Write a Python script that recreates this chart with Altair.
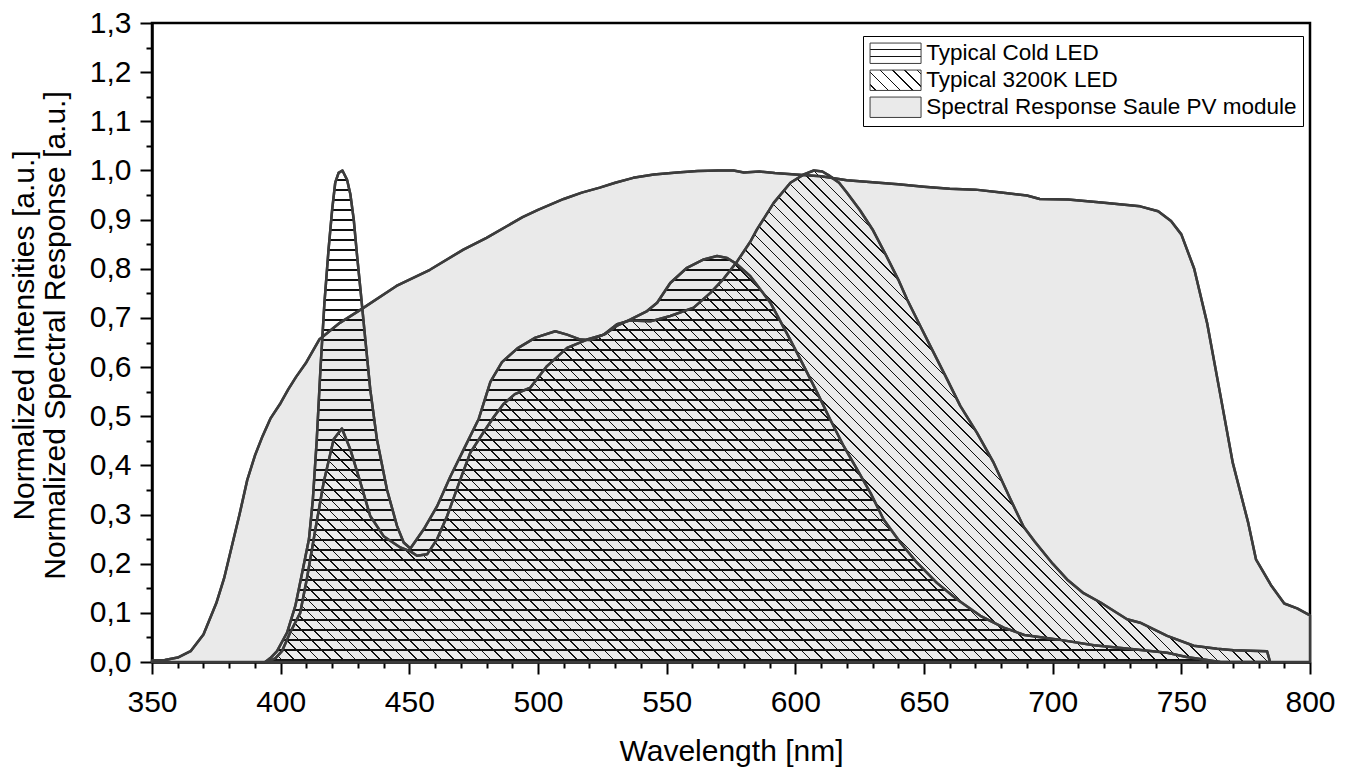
import math
import altair as alt
import pandas as pd

# ---------------- data ----------------
SERIES = ["Typical Cold LED", "Typical 3200K LED", "Spectral Response Saule PV module"]

PV_NM = [350, 355, 360, 365, 370, 375, 378, 381, 384, 387, 390, 393, 396, 400, 403, 406,
         410, 415, 423, 432, 445, 458, 471, 480, 494, 500, 510, 517, 524, 530, 537, 545,
         554, 562, 570, 576, 580, 586, 592, 600, 610, 620, 630, 640, 650, 660, 670, 680,
         690, 695, 706, 719, 734, 741, 746, 750, 755, 760, 765, 770, 776, 779, 785, 790,
         795, 800]
PV_VAL = [0.003, 0.004, 0.009, 0.022, 0.056, 0.12, 0.17, 0.235, 0.30, 0.37, 0.42, 0.46,
          0.495, 0.527, 0.555, 0.58, 0.61, 0.656, 0.69, 0.72, 0.765, 0.798, 0.839, 0.863,
          0.905, 0.92, 0.942, 0.955, 0.965, 0.975, 0.985, 0.992, 0.996, 0.999, 1.0, 1.0,
          0.996, 0.998, 0.995, 0.992, 0.988, 0.98, 0.976, 0.972, 0.967, 0.963, 0.961,
          0.955, 0.949, 0.942, 0.941, 0.935, 0.927, 0.917, 0.897, 0.87, 0.80, 0.69, 0.548,
          0.405, 0.283, 0.209, 0.155, 0.119, 0.109, 0.095]

COLD_NM = [394, 396, 398.6, 402.5, 405.7, 408.3, 411, 412.5, 414, 415.5, 417, 418.6, 420,
           421.2, 422.5, 424, 425.8, 427.1, 428.4, 429.7, 431, 432.9, 434.8, 437.4, 441.3,
           445.2, 447.8, 450.4, 455.6, 460.8, 466, 471.1, 477, 481.5, 486, 492, 499, 506.7,
           511.3, 516.5, 520.3, 526, 531, 536, 542.4, 546.3, 551.4, 557.9, 564.4, 569.6,
           573.5, 577.4, 582.5, 590.3, 598, 603.3, 608.5, 613.6, 618.8, 624, 629.2, 634.3,
           640.8, 647.3, 655, 662.9, 671.9, 681, 689, 701.7, 716, 731.5, 744.5, 752, 760,
           765]
COLD_VAL = [0.0, 0.008, 0.022, 0.06, 0.114, 0.18, 0.25, 0.33, 0.45, 0.6, 0.73, 0.839, 0.92,
            0.975, 0.995, 1.0, 0.981, 0.951, 0.90, 0.826, 0.758, 0.656, 0.555, 0.453, 0.351,
            0.277, 0.243, 0.231, 0.27, 0.317, 0.378, 0.432, 0.495, 0.57, 0.61, 0.638, 0.66,
            0.673, 0.666, 0.656, 0.655, 0.667, 0.685, 0.697, 0.714, 0.731, 0.771, 0.802,
            0.819, 0.826, 0.822, 0.809, 0.785, 0.731, 0.656, 0.602, 0.548, 0.493, 0.439,
            0.392, 0.344, 0.29, 0.243, 0.202, 0.161, 0.127, 0.094, 0.07, 0.055, 0.046,
            0.034, 0.026, 0.019, 0.01, 0.004, 0.0]

K3200_NM = [395, 398, 400.5, 403.7, 407.6, 410.2, 413.5, 416.7, 420.6, 423.8, 427.1, 431,
            434.8, 440, 446.5, 450.4, 453, 456.9, 460.8, 464.7, 469.8, 473.7, 478.9, 483,
            486.6, 491, 497, 503.5, 511.3, 519.1, 525.5, 530.7, 535.9, 543.7, 551.4, 560.5,
            567, 572.2, 577.4, 582.5, 585.1, 591.6, 598.1, 603.3, 607.2, 610.5, 613, 617,
            620, 625, 630, 635, 640, 643.4, 648.6, 653.8, 659, 664.1, 670.6, 677.1, 683.6,
            688.7, 693, 700, 705.6, 712, 718.6, 728.9, 734, 744.5, 754.8, 763.9, 770.3,
            783.3, 784.5]
K3200_VAL = [0.0, 0.008, 0.022, 0.06, 0.10, 0.17, 0.27, 0.365, 0.453, 0.475, 0.432, 0.365,
             0.297, 0.256, 0.233, 0.225, 0.216, 0.219, 0.25, 0.297, 0.371, 0.426, 0.468, 0.50,
             0.525, 0.545, 0.558, 0.602, 0.639, 0.656, 0.666, 0.687, 0.695, 0.693, 0.704,
             0.721, 0.751, 0.78, 0.815, 0.855, 0.88, 0.934, 0.975, 0.992, 1.0, 0.998, 0.99,
             0.975, 0.955, 0.92, 0.88, 0.83, 0.778, 0.738, 0.683, 0.629, 0.575, 0.521, 0.466,
             0.405, 0.331, 0.275, 0.245, 0.2, 0.168, 0.14, 0.121, 0.087, 0.08, 0.053, 0.033,
             0.027, 0.024, 0.022, 0.0]

X_TICKS = list(range(350, 801, 10))
Y_TICKS = [round(i * 0.05, 2) for i in range(27)]

# ---------------- layout / style ----------------
FONT = "Liberation Sans"
PLOT_W, PLOT_H = 1158, 639
PAD_L, PAD_T = 152, 23
X_MIN, X_MAX, Y_MAX = 350, 800, 1.3
LINE_COLOR = "#3c3c3c"
PV_GRAY = "#eaeaea"
INK = "#111111"
CLEAR = "rgba(0,0,0,0)"


def stripe_stops(centers, half):
    stops = [{"offset": 0, "color": CLEAR}]
    for c in centers:
        a = max(0.0, c - half)
        b = min(1.0, c + half)
        stops += [{"offset": a, "color": CLEAR}, {"offset": a, "color": INK},
                  {"offset": b, "color": INK}, {"offset": b, "color": CLEAR}]
    stops.append({"offset": 1, "color": CLEAR})
    return stops


def horizontal_hatch(h_px, top_page, spacing=10.0, width=1.2):
    centers = []
    y = math.ceil(top_page / spacing) * spacing
    while y < top_page + h_px - 1:
        centers.append((y - top_page) / h_px)
        y += spacing
    return {"gradient": "linear", "x1": 0, "y1": 0, "x2": 0, "y2": 1,
            "stops": stripe_stops(centers, width / 2 / h_px)}


def diagonal_hatch(w_px, h_px, spacing=12.3, width=1.6, phase=4.0):
    # stripes running top-left -> bottom-right at 45 degrees in pixel space
    a = h_px / w_px
    beta = (1 + a) / (1 + a * a)
    total = w_px + h_px
    centers = []
    s = phase
    while s < total:
        centers.append(s / total)
        s += spacing
    return {"gradient": "linear", "x1": 0, "y1": 1, "x2": beta, "y2": 1 - beta * a,
            "stops": stripe_stops(centers, width / 2 / total)}


def px_w(nm_span):
    return nm_span / (X_MAX - X_MIN) * PLOT_W


def px_h(v):
    return v / Y_MAX * PLOT_H


cold_h = px_h(max(COLD_VAL))
cold_top = PAD_T + PLOT_H - cold_h
COLD_FILL = horizontal_hatch(cold_h, cold_top)
K_FILL = diagonal_hatch(px_w(max(K3200_NM) - min(K3200_NM)), px_h(max(K3200_VAL)))

# legend symbol: 51 x 20.4 px rectangle
SYM_H = 20.4
SYM_W = 2.5 * SYM_H
LEG_COLD = {"gradient": "linear", "x1": 0, "y1": 0, "x2": 0, "y2": 1,
            "stops": stripe_stops([1 / 3, 2 / 3], 0.6 / SYM_H)}
LEG_K = diagonal_hatch(SYM_W, SYM_H, spacing=12.3, width=1.6, phase=6.0)

params = [
    alt.param(name="gColdArea", value=COLD_FILL),
    alt.param(name="gKArea", value=K_FILL),
    alt.param(name="gColdLeg", value=LEG_COLD),
    alt.param(name="gKLeg", value=LEG_K),
]

# fill: in the plot datum.series is set, in the legend datum.value is the entry
FILL_EXPR = (
    f"datum.series ? (datum.series === '{SERIES[0]}' ? gColdArea : "
    f"(datum.series === '{SERIES[1]}' ? gKArea : '{PV_GRAY}')) : "
    f"(datum.value === '{SERIES[0]}' ? gColdLeg : "
    f"(datum.value === '{SERIES[1]}' ? gKLeg : '{PV_GRAY}'))"
)

# ---------------- data frame ----------------
df = pd.concat([
    pd.DataFrame({"nm": COLD_NM, "value": COLD_VAL, "series": SERIES[0]}),
    pd.DataFrame({"nm": K3200_NM, "value": K3200_VAL, "series": SERIES[1]}),
    pd.DataFrame({"nm": PV_NM, "value": PV_VAL, "series": SERIES[2]}),
], ignore_index=True)

x_axis = alt.Axis(
    values=X_TICKS,
    labelExpr="datum.value % 50 == 0 ? datum.label : ''",
    tickSize={"condition": {"test": "datum.value % 50 == 0", "value": 12}, "value": 6},
    labelFontSize=30, labelPadding=37, labelBaseline="alphabetic",
    labelOverlap=False, labelFlush=False,
    titleFontSize=30, titleY=98, titleBaseline="alphabetic",
)
y_axis = alt.Axis(
    values=Y_TICKS,
    labelExpr="abs(datum.value * 10 - round(datum.value * 10)) < 0.001 ? "
              "replace(format(datum.value, '.1f'), '.', ',') : ''",
    tickSize={"condition": {"test": "abs(datum.value * 10 - round(datum.value * 10)) < 0.001",
                            "value": 12}, "value": 6},
    labelFontSize=30, labelPadding=9,
    labelOverlap=False, labelFlush=False,
    titleFontSize=30, titleX=-119, titleY=312, titleAngle=270,
    titleBaseline="alphabetic", titleAlign="center", titleLineHeight=31,
)

X = alt.X("nm:Q", scale=alt.Scale(domain=[X_MIN, X_MAX], nice=False),
          axis=x_axis, title="Wavelength [nm]")
Y = alt.Y("value:Q", scale=alt.Scale(domain=[0, Y_MAX], nice=False), stack=None,
          axis=y_axis,
          title=["Normalized Intensities [a.u.]", "Normalized Spectral Response [a.u.]"])

legend = alt.Legend(
    title=None, orient="none", legendX=711, legendY=13,
    symbolType="M-2.5,-1H2.5V1H-2.5Z", symbolSize=SYM_H * SYM_H,
    symbolOffset=(SYM_W - SYM_H) / 2,
    symbolStrokeWidth=1, symbolStrokeColor="black", symbolOpacity=1,
    labelFont=FONT, labelFontSize=22.5, labelColor="black", labelLimit=700,
    labelOffset=19.5,
    padding=6, rowPadding=2, strokeColor="black", fillColor="white",
)
STROKE = alt.Stroke("series:N", scale=alt.Scale(domain=SERIES, range=[LINE_COLOR] * 3),
                    legend=legend)

base = alt.Chart(df)


def area_for(name):
    return base.transform_filter(alt.datum.series == name).mark_area(
        fill={"expr": FILL_EXPR}, strokeWidth=2.5, opacity=1, strokeJoin="round",
    ).encode(x=X, y=Y, stroke=STROKE)


pv_area = area_for(SERIES[2])
k_area = area_for(SERIES[1])
cold_area = area_for(SERIES[0])

lines = base.mark_line(color=LINE_COLOR, strokeWidth=2.5, strokeJoin="round").encode(
    x=X, y=Y, detail="series:N")

chart = alt.layer(pv_area, k_area, cold_area, lines).add_params(*params).properties(
    width=PLOT_W, height=PLOT_H,
    padding={"left": PAD_L, "top": PAD_T, "right": 1352 - PAD_L - PLOT_W,
             "bottom": 769 - PAD_T - PLOT_H},
    autosize=alt.AutoSizeParams(type="none"),
    background="white",
).configure_view(
    stroke="black", strokeWidth=2.5,
).configure_axis(
    grid=False, domainColor="black", domainWidth=2.5, tickColor="black", tickWidth=2,
    labelFont=FONT, titleFont=FONT, labelColor="black", titleColor="black",
    titleFontWeight="normal", zindex=1,
)

chart.save("out.html", embed_options={"renderer": "svg", "actions": False})
